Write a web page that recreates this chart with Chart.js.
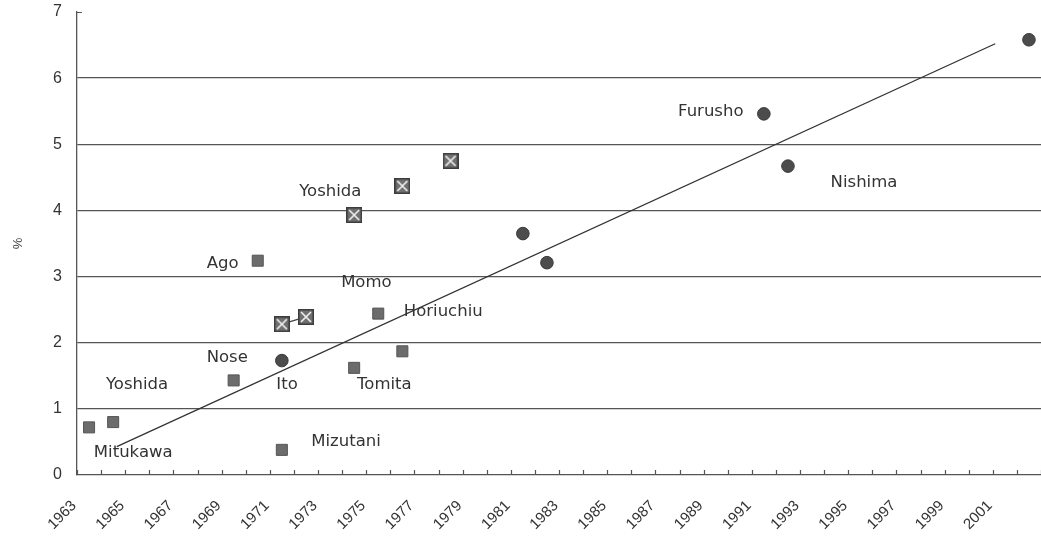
<!DOCTYPE html>
<html>
<head>
<meta charset="utf-8">
<script src="https://cdn.jsdelivr.net/npm/chart.js"></script>
<style>
  html, body { margin: 0; padding: 0; background: #fff; }
</style>
</head>
<body>
<canvas id="trendChart" width="1041" height="539"></canvas>
<script>
  // one slot per year, 1963..2002
  const firstYear = 1963;
  const lastYear = 2002;
  const yearLabels = ['1963', '1965', '1967', '1969', '1971', '1973', '1975', '1977', '1979', '1981',
    '1983', '1985', '1987', '1989', '1991', '1993', '1995', '1997', '1999', '2001'];
  const valueTicks = [0, 1, 2, 3, 4, 5, 6, 7];

  // filled squares
  const squareYears = [1963, 1964, 1969, 1970, 1971, 1974, 1975, 1976];
  const squareValues = [0.72, 0.80, 1.43, 3.24, 0.38, 1.62, 2.44, 1.87];

  // boxed crosses (consecutive years are joined)
  const crossYears = [1971, 1972, 1973, 1974, 1975, 1976, 1977, 1978];
  const crossValues = [2.28, 2.39, null, 3.93, null, 4.37, null, 4.75];

  // circles
  const circleYears = [1971, 1981, 1982, 1991, 1992, 2002];
  const circleValues = [1.73, 3.65, 3.21, 5.46, 4.67, 6.58];

  // trend line ends
  const trendYears = [1964.15, 2000.6];
  const trendValues = [0.43, 6.52];

  // author names written next to the marks
  const names = ['Mitukawa', 'Yoshida', 'Nose', 'Ito', 'Ago', 'Mizutani', 'Tomita', 'Momo',
    'Horiuchiu', 'Yoshida', 'Furusho', 'Nishima'];
  const nameYears = [1963.2, 1963.7, 1967.88, 1970.77, 1967.88, 1972.22, 1974.12, 1973.46,
    1976.06, 1971.72, 1987.44, 1993.77];
  const nameValues = [0.33, 1.36, 1.77, 1.36, 3.19, 0.50, 1.36, 2.90, 2.47, 4.28, 5.49, 4.42];

  const pairs = (xs, ys) => xs.map((x, i) => ({ x: x, y: ys[i] }));

  // square with a white X inside
  function boxCross(size) {
    const c = document.createElement('canvas');
    c.width = size;
    c.height = size;
    const g = c.getContext('2d');
    g.fillStyle = '#6f6f6f';
    g.fillRect(0, 0, size, size);
    g.strokeStyle = '#3c3c3c';
    g.lineWidth = 1.5;
    g.strokeRect(0.75, 0.75, size - 1.5, size - 1.5);
    g.strokeStyle = '#f2f2f2';
    g.lineWidth = 1.6;
    g.beginPath();
    g.moveTo(3, 3); g.lineTo(size - 3, size - 3);
    g.moveTo(size - 3, 3); g.lineTo(3, size - 3);
    g.stroke();
    return c;
  }

  // tick marks pointing into the plot, and the name labels
  const decorations = {
    id: 'decorations',
    afterDatasetsDraw(chart) {
      const { ctx, chartArea, scales } = chart;
      const x = scales.x, y = scales.y;
      ctx.save();
      ctx.strokeStyle = '#555';
      ctx.lineWidth = 1.2;
      ctx.beginPath();
      for (let yr = firstYear - 0.5; yr <= lastYear + 0.5; yr++) {
        const px = Math.round(x.getPixelForValue(yr)) + 0.5;
        ctx.moveTo(px, chartArea.bottom);
        ctx.lineTo(px, chartArea.bottom - 5);
      }
      const top = Math.round(y.getPixelForValue(valueTicks[valueTicks.length - 1])) + 0.5;
      ctx.moveTo(chartArea.left, top);
      ctx.lineTo(chartArea.left + 5, top);
      ctx.stroke();

      ctx.fillStyle = '#333';
      ctx.font = '16.5px "DejaVu Sans"';
      ctx.textAlign = 'left';
      ctx.textBaseline = 'middle';
      names.forEach((n, i) => {
        ctx.fillText(n, x.getPixelForValue(nameYears[i]), y.getPixelForValue(nameValues[i]));
      });
      ctx.restore();
    }
  };

  new Chart(document.getElementById('trendChart'), {
    type: 'scatter',
    data: {
      datasets: [
        {
          data: pairs(squareYears, squareValues),
          pointStyle: 'rect',
          pointRadius: 7.8,
          backgroundColor: '#6c6c6c',
          borderColor: '#555',
          borderWidth: 1
        },
        {
          data: pairs(circleYears, circleValues),
          pointStyle: 'circle',
          pointRadius: 6.3,
          backgroundColor: '#4c4c4c',
          borderColor: '#3a3a3a',
          borderWidth: 1
        },
        {
          data: pairs(crossYears, crossValues),
          pointStyle: boxCross(16),
          showLine: true,
          spanGaps: false,
          borderColor: '#444',
          borderWidth: 1.3
        },
        {
          data: pairs(trendYears, trendValues),
          showLine: true,
          pointRadius: 0,
          borderColor: '#333',
          borderWidth: 1.3
        }
      ]
    },
    options: {
      responsive: false,
      animation: false,
      devicePixelRatio: 1,
      layout: { autoPadding: false, padding: { top: 12, left: 0, right: 0, bottom: 0 } },
      plugins: { legend: { display: false }, tooltip: { enabled: false } },
      scales: {
        x: {
          type: 'linear',
          min: firstYear - 0.5,
          max: lastYear + 0.5,
          afterBuildTicks: s => { s.ticks = yearLabels.map(l => ({ value: Number(l) })); },
          afterFit: s => { s.height = 64; s.paddingLeft = 0; s.paddingRight = 0; },
          grid: { display: false },
          border: { display: true, color: '#555', width: 1.3 },
          ticks: {
            autoSkip: false,
            maxRotation: 45,
            minRotation: 45,
            padding: 14,
            labelOffset: -15,
            color: '#333',
            font: { family: 'Liberation Sans', size: 15 },
            callback: v => String(v)
          }
        },
        y: {
          min: 0,
          max: 7,
          afterBuildTicks: s => { s.ticks = valueTicks.map(v => ({ value: v })); },
          afterFit: s => { s.width = 77; s.paddingTop = 0; s.paddingBottom = 0; },
          grid: {
            color: c => (c.tick && c.tick.value > 0 && c.tick.value < 7) ? '#555' : 'rgba(0,0,0,0)',
            lineWidth: 1.3,
            drawTicks: false
          },
          border: { display: true, color: '#555', width: 1.3 },
          ticks: {
            padding: 15,
            color: '#333',
            font: { family: 'Liberation Sans', size: 16 }
          },
          title: {
            display: true,
            text: '%',
            color: '#444',
            font: { family: 'Liberation Sans', size: 13 },
            padding: { top: 11, bottom: 4 }
          }
        }
      }
    },
    plugins: [decorations]
  });
</script>
</body>
</html>
